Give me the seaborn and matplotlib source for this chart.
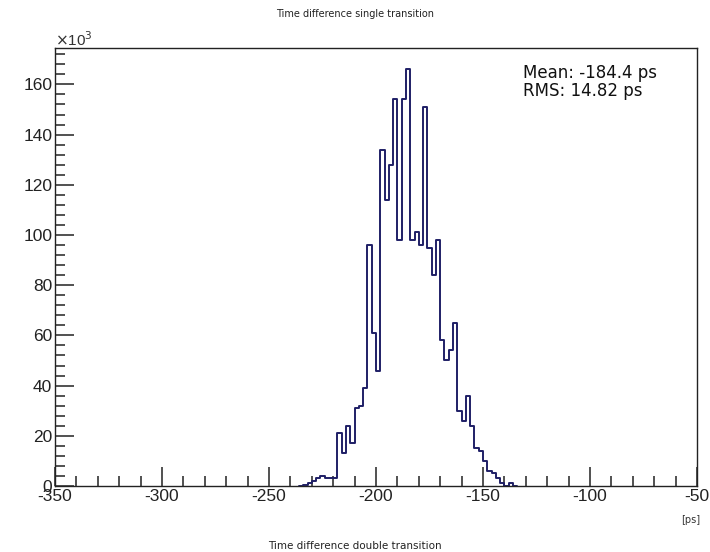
import numpy as np
import pandas as pd
import matplotlib
matplotlib.use("Agg")
import matplotlib.pyplot as plt
import seaborn as sns
from matplotlib.ticker import MultipleLocator

# Histogram data (counts in units of 10^3), 2 ps bins, left edges
bin_left = [-236, -234, -232, -230, -228, -226, -224, -222, -220, -218,
            -216, -214, -212, -210, -208, -206, -204, -202, -200, -198,
            -196, -194, -192, -190, -188, -186, -184, -182, -180, -178,
            -176, -174, -172, -170, -168, -166, -164, -162, -160, -158,
            -156, -154, -152, -150, -148, -146, -144, -142, -140, -138, -136]
counts = [0, 0.5, 1, 2, 3, 4, 3, 3, 3, 21,
          13, 24, 17, 31, 32, 39, 96, 61, 46, 134,
          114, 128, 154, 98, 154, 166, 98, 101, 96, 151,
          95, 84, 98, 58, 50, 54, 65, 30, 26, 36,
          24, 15, 14, 10, 6, 5, 3, 1, 0, 1, 0]
bin_width = 2
x_ticks = [-350, -300, -250, -200, -150, -100, -50]
y_ticks = [0, 20, 40, 60, 80, 100, 120, 140, 160]

title_text = "Time difference single transition"
next_title = "Time difference double transition"
stats_text = "Mean: -184.4 ps\nRMS: 14.82 ps"

sns.set_style("white")
plt.rcParams['font.family'] = ['Liberation Sans', 'DejaVu Sans']
plt.rcParams['axes.unicode_minus'] = False

df = pd.DataFrame({"x": np.array(bin_left) + bin_width / 2, "w": counts})
edges = list(bin_left) + [bin_left[-1] + bin_width]

fig = plt.figure(figsize=(7.1, 5.52), dpi=100)
ax = fig.add_axes([55 / 710, 66 / 552, 642 / 710, 438 / 552])
sns.histplot(data=df, x="x", weights="w", bins=edges, element="step",
             fill=False, color="#1f1f66", linewidth=1.4, ax=ax)

ax.set_xlim(-350, -50)
ax.set_ylim(0, 174.5)
ax.set_xticks(x_ticks)
ax.set_yticks(y_ticks)
ax.xaxis.set_minor_locator(MultipleLocator(10))
ax.yaxis.set_minor_locator(MultipleLocator(4))
ax.tick_params(axis="both", which="major", direction="in", length=14, width=1.2,
               color="#333333", labelsize=12.5, labelcolor="#222222",
               bottom=True, left=True, top=False, right=False)
ax.tick_params(axis="both", which="minor", direction="in", length=7, width=1.2,
               color="#333333", bottom=True, left=True, top=False, right=False)
ax.tick_params(axis="x", pad=2)
ax.tick_params(axis="y", pad=2)
ax.set_xlabel("")
ax.set_ylabel("")
for s in ax.spines.values():
    s.set_color("#222222")
    s.set_linewidth(1.0)

fig.text(355 / 710, 1 - 14 / 552, title_text, ha="center", va="center",
         fontsize=7, color="#222222", family=["DejaVu Sans"])
fig.text(55 / 710, 1 - 40 / 552, r"$\times$10$^{3}$", ha="left", va="center",
         fontsize=11, color="#333333")
fig.text(700 / 710, 1 - 520 / 552, "[ps]", ha="right", va="center",
         fontsize=7, color="#333333", family=["DejaVu Sans"])
fig.text(355 / 710, 1 - 541 / 552, next_title, ha="center", va="top",
         fontsize=7.5, color="#222222", family=["DejaVu Sans"])
fig.text(523 / 710, 1 - 82 / 552, stats_text, ha="left", va="center",
         fontsize=12, color="#111111", family=["DejaVu Sans"], linespacing=1.0)

fig.savefig("out.png", dpi=100)
